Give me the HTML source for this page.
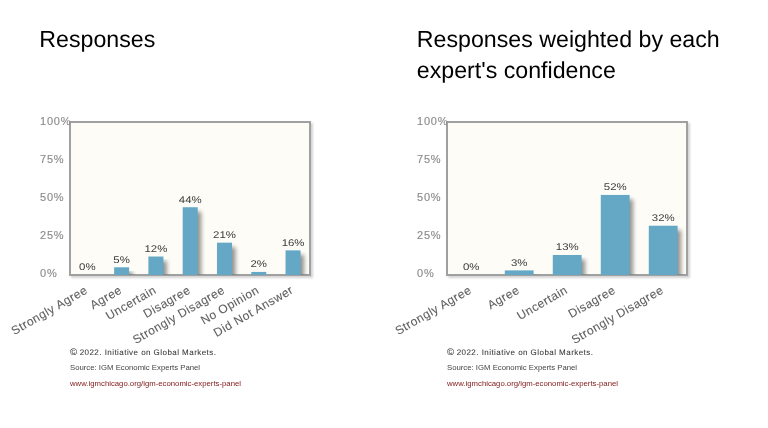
<!DOCTYPE html>
<html><head><meta charset="utf-8"><style>
html,body{margin:0;padding:0;background:#fff;width:768px;height:428px;overflow:hidden}
svg{display:block;will-change:transform}
text{font-family:"Liberation Sans",sans-serif}
.title{font-size:23.2px;fill:#000;text-rendering:geometricPrecision}
.yl{font-size:11px;fill:#8c8c8c;stroke:#8c8c8c;stroke-width:0.15px;letter-spacing:0.8px}
.vl{font-size:9.7px;fill:#3c3c3c;text-anchor:middle;text-rendering:geometricPrecision}
.xl{font-size:12px;fill:#5e5e5e;stroke:#5e5e5e;stroke-width:0.1px;text-anchor:end;letter-spacing:0.5px}
.f1{font-size:8px;fill:#333;stroke:#333;stroke-width:0.05px;letter-spacing:0.45px;text-rendering:geometricPrecision}
.f2{font-size:7.75px;fill:#444}
.f3{font-size:7.75px;fill:#801818}
</style></head><body>
<svg width="768" height="428" viewBox="0 0 768 428">
<defs>
<filter id="blur2" x="-10%" y="-10%" width="120%" height="120%"><feGaussianBlur stdDeviation="1.2"/></filter>
<filter id="blur3" x="-50%" y="-10%" width="200%" height="120%"><feGaussianBlur stdDeviation="2"/></filter>
</defs>

<text x="39.3" y="46.7" class="title">Responses</text>
<text x="416.8" y="46.6" class="title">Responses weighted by each</text>
<text x="416.8" y="77.6" class="title">expert's confidence</text>
<clipPath id="clip69"><rect x="71" y="123" width="238" height="151.5"/></clipPath>
<rect x="71" y="123" width="242" height="155" fill="#000" opacity="0.17" filter="url(#blur2)"/>
<rect x="70" y="122" width="240" height="153" fill="#fdfcf7" stroke="#a0a0a0" stroke-width="2"/>
<text x="40" y="125.00" class="yl">100%</text>
<text x="40" y="163.08" class="yl">75%</text>
<text x="40" y="201.16" class="yl">50%</text>
<text x="40" y="239.24" class="yl">25%</text>
<text x="40" y="277.32" class="yl">0%</text>
<text x="0" y="0" class="vl" transform="translate(87.34,270.40) scale(1.18,1)">0%</text>
<text x="0" y="0" class="xl" transform="translate(88.54,292.3) rotate(-30)">Strongly Agree</text>
<rect x="117.62857142857143" y="271.8" width="15" height="7.7" fill="#000" opacity="0.42" filter="url(#blur3)" clip-path="url(#clip69)"/>
<rect x="114.13" y="267.30" width="15" height="7.70" fill="#64a8c6"/>
<text x="0" y="0" class="vl" transform="translate(121.63,262.70) scale(1.18,1)">5%</text>
<text x="0" y="0" class="xl" transform="translate(122.83,292.3) rotate(-30)">Agree</text>
<rect x="151.9142857142857" y="261.02" width="15" height="18.48" fill="#000" opacity="0.42" filter="url(#blur3)" clip-path="url(#clip69)"/>
<rect x="148.41" y="256.52" width="15" height="18.48" fill="#64a8c6"/>
<text x="0" y="0" class="vl" transform="translate(155.91,251.92) scale(1.18,1)">12%</text>
<text x="0" y="0" class="xl" transform="translate(157.11,292.3) rotate(-30)">Uncertain</text>
<rect x="186.2" y="211.74" width="15" height="67.76" fill="#000" opacity="0.42" filter="url(#blur3)" clip-path="url(#clip69)"/>
<rect x="182.70" y="207.24" width="15" height="67.76" fill="#64a8c6"/>
<text x="0" y="0" class="vl" transform="translate(190.20,202.64) scale(1.18,1)">44%</text>
<text x="0" y="0" class="xl" transform="translate(191.40,292.3) rotate(-30)">Disagree</text>
<rect x="220.48571428571427" y="247.16" width="15" height="32.339999999999996" fill="#000" opacity="0.42" filter="url(#blur3)" clip-path="url(#clip69)"/>
<rect x="216.99" y="242.66" width="15" height="32.34" fill="#64a8c6"/>
<text x="0" y="0" class="vl" transform="translate(224.49,238.06) scale(1.18,1)">21%</text>
<text x="0" y="0" class="xl" transform="translate(225.69,292.3) rotate(-30)">Strongly Disagree</text>
<rect x="254.77142857142854" y="276.42" width="15" height="3.08" fill="#000" opacity="0.42" filter="url(#blur3)" clip-path="url(#clip69)"/>
<rect x="251.27" y="271.92" width="15" height="3.08" fill="#64a8c6"/>
<text x="0" y="0" class="vl" transform="translate(258.77,267.32) scale(1.18,1)">2%</text>
<text x="0" y="0" class="xl" transform="translate(259.97,292.3) rotate(-30)">No Opinion</text>
<rect x="289.0571428571429" y="254.86" width="15" height="24.64" fill="#000" opacity="0.42" filter="url(#blur3)" clip-path="url(#clip69)"/>
<rect x="285.56" y="250.36" width="15" height="24.64" fill="#64a8c6"/>
<text x="0" y="0" class="vl" transform="translate(293.06,245.76) scale(1.18,1)">16%</text>
<text x="0" y="0" class="xl" transform="translate(294.26,292.3) rotate(-30)">Did Not Answer</text>
<text x="70" y="355" class="f1"><tspan style="font-size:9.6px;letter-spacing:0">©</tspan><tspan dx="2.6">2022.</tspan> Initiative on Global Markets.</text>
<text x="70" y="370" class="f2">Source: IGM Economic Experts Panel</text>
<text x="70" y="386" class="f3">www.igmchicago.org/igm-economic-experts-panel</text>
<clipPath id="clip446"><rect x="448" y="123" width="238" height="151.5"/></clipPath>
<rect x="448" y="123" width="242" height="155" fill="#000" opacity="0.17" filter="url(#blur2)"/>
<rect x="447" y="122" width="240" height="153" fill="#fdfcf7" stroke="#a0a0a0" stroke-width="2"/>
<text x="417" y="125.00" class="yl">100%</text>
<text x="417" y="163.08" class="yl">75%</text>
<text x="417" y="201.16" class="yl">50%</text>
<text x="417" y="239.24" class="yl">25%</text>
<text x="417" y="277.32" class="yl">0%</text>
<text x="0" y="0" class="vl" transform="translate(471.20,270.40) scale(1.18,1)">0%</text>
<text x="0" y="0" class="xl" transform="translate(472.40,292.3) rotate(-30)">Strongly Agree</text>
<rect x="508.30000000000007" y="274.88" width="28.8" height="4.62" fill="#000" opacity="0.42" filter="url(#blur3)" clip-path="url(#clip446)"/>
<rect x="504.80" y="270.38" width="28.8" height="4.62" fill="#64a8c6"/>
<text x="0" y="0" class="vl" transform="translate(519.20,265.78) scale(1.18,1)">3%</text>
<text x="0" y="0" class="xl" transform="translate(520.40,292.3) rotate(-30)">Agree</text>
<rect x="556.3000000000001" y="259.48" width="28.8" height="20.02" fill="#000" opacity="0.42" filter="url(#blur3)" clip-path="url(#clip446)"/>
<rect x="552.80" y="254.98" width="28.8" height="20.02" fill="#64a8c6"/>
<text x="0" y="0" class="vl" transform="translate(567.20,250.38) scale(1.18,1)">13%</text>
<text x="0" y="0" class="xl" transform="translate(568.40,292.3) rotate(-30)">Uncertain</text>
<rect x="604.3000000000001" y="199.42000000000002" width="28.8" height="80.08" fill="#000" opacity="0.42" filter="url(#blur3)" clip-path="url(#clip446)"/>
<rect x="600.80" y="194.92" width="28.8" height="80.08" fill="#64a8c6"/>
<text x="0" y="0" class="vl" transform="translate(615.20,190.32) scale(1.18,1)">52%</text>
<text x="0" y="0" class="xl" transform="translate(616.40,292.3) rotate(-30)">Disagree</text>
<rect x="652.3000000000001" y="230.22" width="28.8" height="49.28" fill="#000" opacity="0.42" filter="url(#blur3)" clip-path="url(#clip446)"/>
<rect x="648.80" y="225.72" width="28.8" height="49.28" fill="#64a8c6"/>
<text x="0" y="0" class="vl" transform="translate(663.20,221.12) scale(1.18,1)">32%</text>
<text x="0" y="0" class="xl" transform="translate(664.40,292.3) rotate(-30)">Strongly Disagree</text>
<text x="447" y="355" class="f1"><tspan style="font-size:9.6px;letter-spacing:0">©</tspan><tspan dx="2.6">2022.</tspan> Initiative on Global Markets.</text>
<text x="447" y="370" class="f2">Source: IGM Economic Experts Panel</text>
<text x="447" y="386" class="f3">www.igmchicago.org/igm-economic-experts-panel</text>
</svg></body></html>
